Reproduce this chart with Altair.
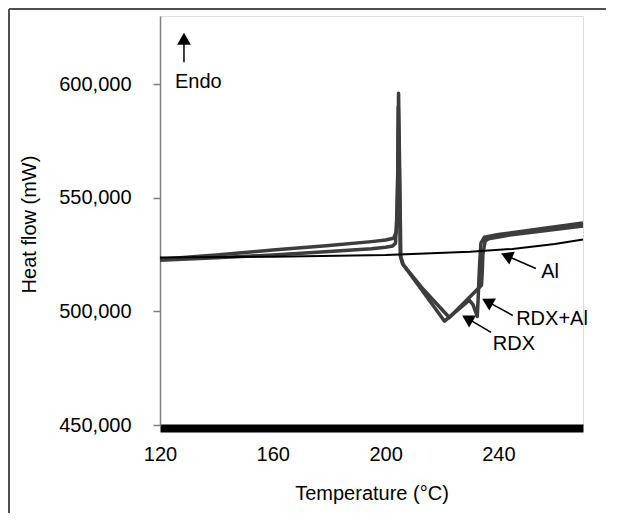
import altair as alt
import pandas as pd

# ---- data ----
rdx_t = [120, 140, 160, 180, 195, 200, 202.5, 203.5, 204.2, 204.5, 204.9, 205.2, 206.0,
         213.1, 220.9, 225.0, 229.7, 231.0, 232.5, 232.8, 233.3, 233.8, 235.0, 240.0, 255.0, 270.0]
rdx_hf = [522500, 523600, 524800, 526400, 527600, 528200, 528800, 530000, 545000, 590000, 560000, 524500, 521000,
          509000, 495700, 500000, 504900, 503000, 497800, 505000, 520000, 530000, 532600, 533800, 536400, 538900]

rdxal_t = [120, 140, 160, 180, 195, 200, 202.8, 203.8, 204.3, 204.6, 205.0, 205.4, 206.3,
           213.5, 222.6, 228.0, 234.0, 234.3, 234.5, 235.3, 236.5, 244.0, 257.0, 270.0]
rdxal_hf = [523000, 524800, 527000, 529000, 530700, 531400, 532200, 535000, 560000, 596000, 560000, 524000, 520500,
            509500, 497300, 504000, 511500, 518000, 525000, 531000, 532000, 533600, 535600, 537600]

al_t = [120, 160, 200, 230, 245, 260, 270]
al_hf = [523700, 524100, 524800, 526200, 527500, 529700, 531600]

x_ticks = [120, 160, 200, 240]
y_ticks = [450000, 500000, 550000, 600000]

# annotations: label text, text position, arrow tail, arrowhead centre, arrowhead angle
ann_text = ["Endo", "Al", "RDX+Al", "RDX"]
ann_tx = [125.3, 255.2, 246.3, 238.0]
ann_ty = [601000, 517200, 496800, 485600]
arr_x1 = [128.5, 253.3, 245.1, 237.4]
arr_y1 = [609700, 518900, 498200, 490800]
arr_x2 = [128.5, 242.9, 236.1, 229.0]
arr_y2 = [620000, 524500, 504300, 496900]
arr_angle = [0, 293, 299, 300]

FONT = "Liberation Sans"
FS = 20

rows = []
for name, ts, hs in [("RDX", rdx_t, rdx_hf), ("RDX+Al", rdxal_t, rdxal_hf)]:
    for i, (t, h) in enumerate(zip(ts, hs)):
        rows.append({"T": t, "HF": h, "series": name, "i": i})
curves = pd.DataFrame(rows)
al_df = pd.DataFrame({"T": al_t, "HF": al_hf, "i": list(range(len(al_t)))})
ann = pd.DataFrame({"label": ann_text, "tx": ann_tx, "ty": ann_ty,
                    "x1": arr_x1, "y1": arr_y1, "x2": arr_x2, "y2": arr_y2, "ang": arr_angle})

xs = alt.Scale(domain=[120, 270], nice=False, zero=False)
ys = alt.Scale(domain=[450000, 630000], nice=False, zero=False)

xax = alt.Axis(values=x_ticks, ticks=False, tickSize=0, domainColor="black", domainWidth=8,
               offset=3, labelPadding=16, labelFontSize=FS, labelFont=FONT, labelColor="black",
               labelFlush=False, grid=False, title="Temperature (°C)", titleFont=FONT,
               titleFontSize=FS, titleFontWeight="normal", titleColor="black",
               titleY=65, titleBaseline="middle")
yax = alt.Axis(values=y_ticks, format=",.0f", tickSize=7, tickColor="#7f7f7f", domainColor="#7f7f7f",
               domainWidth=1.5, tickWidth=1.5, labelPadding=22, labelFontSize=FS, labelFont=FONT,
               labelColor="black", labelFlush=False, grid=False, title="Heat flow (mW)",
               titleFont=FONT, titleFontSize=FS, titleFontWeight="normal", titleColor="black",
               titleX=-121, titleY=208, titleAngle=-90, titleBaseline="bottom", titleAlign="center")

base_x = alt.X("T:Q", scale=xs, axis=xax)
base_y = alt.Y("HF:Q", scale=ys, axis=yax)

rdx_layer = alt.Chart(curves).mark_line(color="#3d3d3d", strokeWidth=3.5, strokeJoin="round").encode(
    x=base_x, y=base_y, detail="series:N", order="i:Q")
al_layer = alt.Chart(al_df).mark_line(color="black", strokeWidth=2).encode(
    x=alt.X("T:Q", scale=xs), y=alt.Y("HF:Q", scale=ys), order="i:Q")

arrows = alt.Chart(ann).mark_rule(color="black", strokeWidth=1.5).encode(
    x=alt.X("x1:Q", scale=xs), y=alt.Y("y1:Q", scale=ys), x2="x2:Q", y2="y2:Q")
heads = alt.Chart(ann).mark_point(shape="triangle-up", filled=True, size=190, color="black",
                                  opacity=1).encode(
    x=alt.X("x2:Q", scale=xs), y=alt.Y("y2:Q", scale=ys), angle=alt.Angle("ang:Q", scale=None))
texts = alt.Chart(ann).mark_text(align="left", baseline="middle", fontSize=FS, font=FONT,
                                 color="black").encode(
    x=alt.X("tx:Q", scale=xs), y=alt.Y("ty:Q", scale=ys), text="label:N")

frame_top = alt.Chart(al_df).mark_rule(color="#505050", strokeWidth=2).encode(
    x=alt.value(-151), x2=alt.value(446), y=alt.value(-7))
frame_left = alt.Chart(al_df).mark_rule(color="#505050", strokeWidth=2).encode(
    x=alt.value(-151), y=alt.value(-7), y2=alt.value(500))

chart = alt.layer(frame_top, frame_left, rdx_layer, al_layer, arrows, heads, texts).properties(
    width=423, height=409,
    autosize=alt.AutoSizeParams(type="none"),
    padding={"left": 152, "top": 8, "right": 27, "bottom": 88},
).configure_view(stroke=None).configure(background="white")

chart.save("out.html", embed_options={"renderer": "svg", "actions": False})
